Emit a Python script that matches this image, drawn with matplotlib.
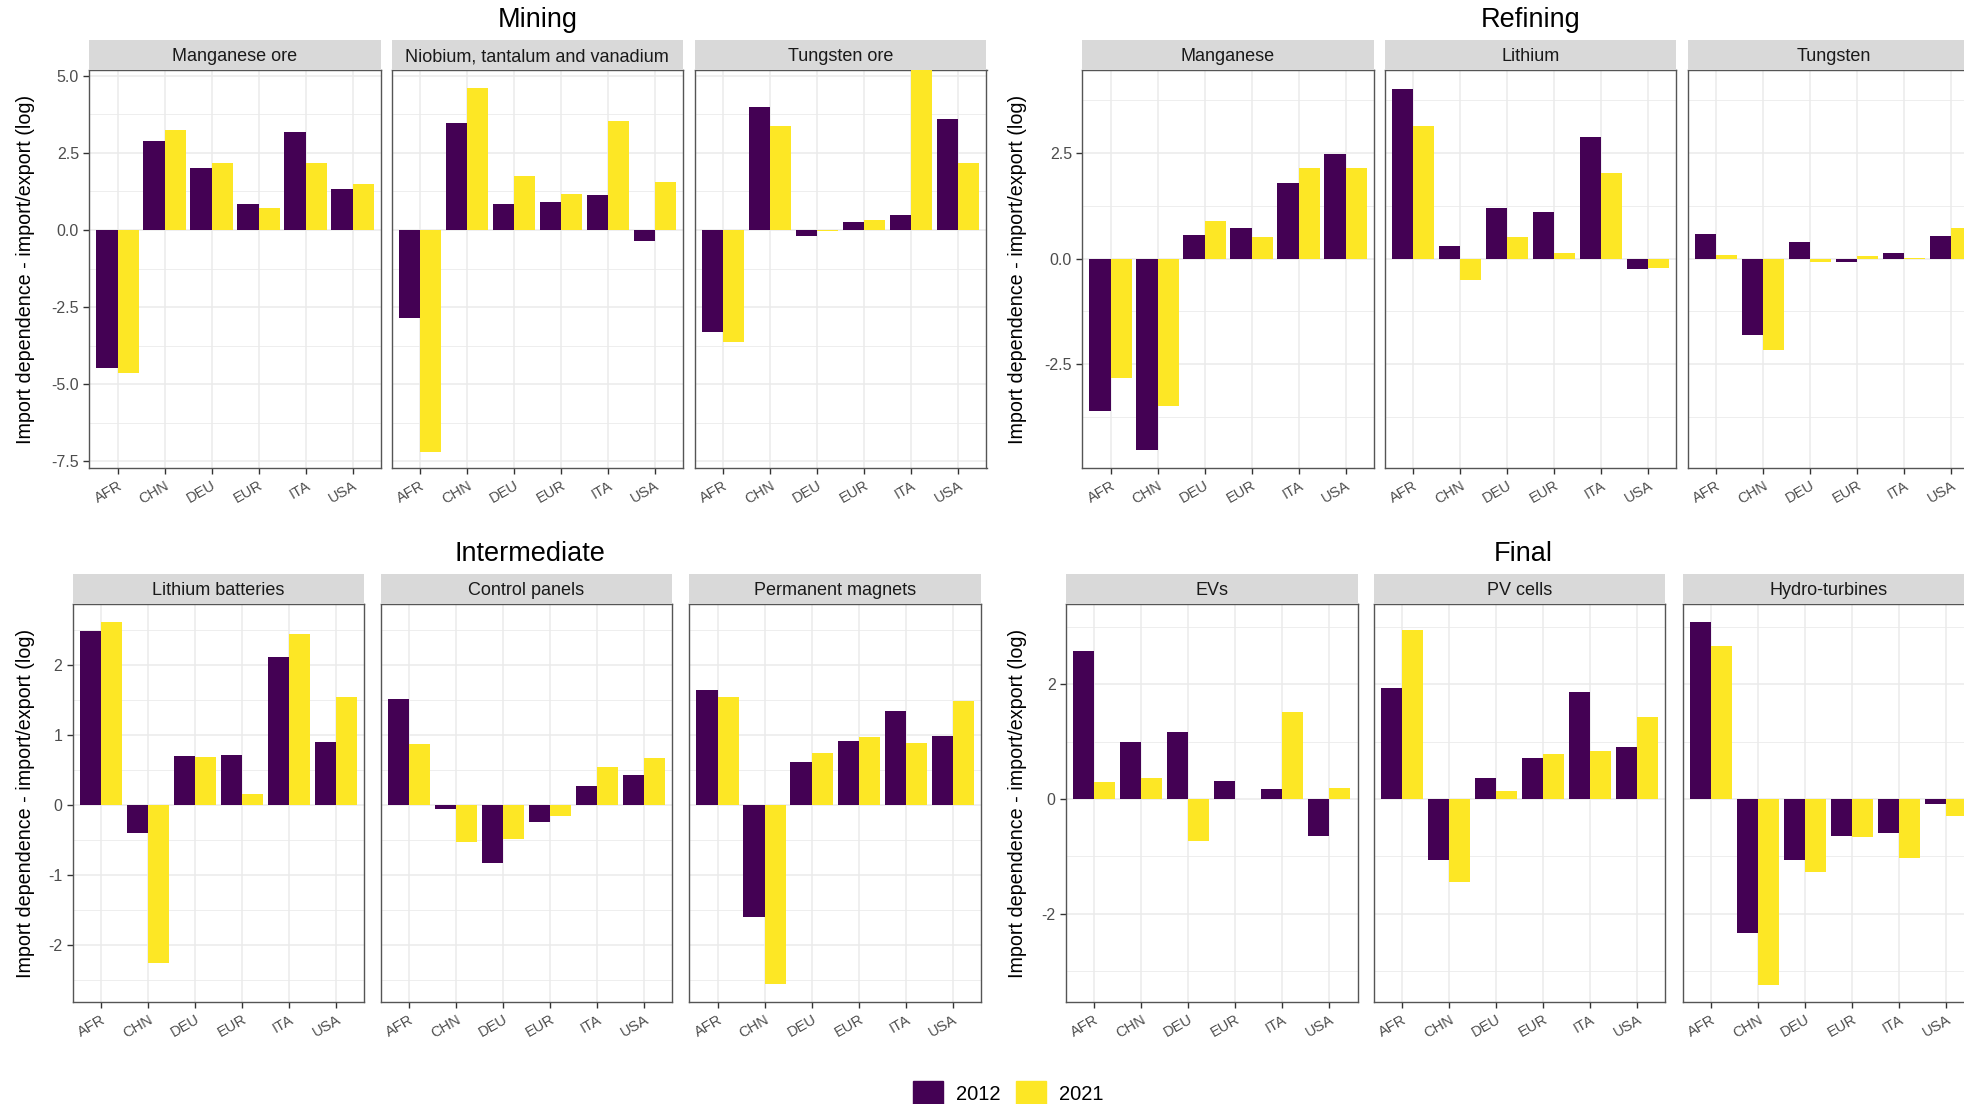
import matplotlib.pyplot as plt
import numpy as np
from matplotlib.ticker import FormatStrFormatter
from matplotlib.patches import Patch

plt.rcParams['font.family'] = ['Liberation Sans', 'DejaVu Sans']
plt.rcParams['axes.unicode_minus'] = False

# Countries on the x axis of every panel
countries = ['AFR', 'CHN', 'DEU', 'EUR', 'ITA', 'USA']
years = ['2012', '2021']

# Mining
mn_ore_2012 = [-4.49, 2.90, 2.02, 0.83, 3.17, 1.34]
mn_ore_2021 = [-4.65, 3.23, 2.16, 0.70, 2.16, 1.50]
nb_ta_v_2012 = [-2.87, 3.46, 0.85, 0.92, 1.14, -0.36]
nb_ta_v_2021 = [-7.19, 4.62, 1.74, 1.18, 3.52, 1.55]
w_ore_2012 = [-3.30, 3.99, -0.21, 0.26, 0.49, 3.59]
w_ore_2021 = [-3.63, 3.37, -0.02, 0.31, 5.40, 2.16]

# Refining
mn_2012 = [-3.62, -4.54, 0.55, 0.72, 1.79, 2.48]
mn_2021 = [-2.82, -3.49, 0.90, 0.52, 2.14, 2.15]
li_2012 = [4.03, 0.30, 1.19, 1.11, 2.89, -0.24]
li_2021 = [3.14, -0.50, 0.52, 0.13, 2.03, -0.23]
w_2012 = [0.59, -1.82, 0.39, -0.07, 0.13, 0.53]
w_2021 = [0.09, -2.17, -0.09, 0.06, 0.01, 0.72]

# Intermediate
li_batt_2012 = [2.49, -0.40, 0.70, 0.72, 2.11, 0.90]
li_batt_2021 = [2.62, -2.25, 0.68, 0.16, 2.44, 1.54]
ctrl_2012 = [1.51, -0.05, -0.83, -0.24, 0.27, 0.43]
ctrl_2021 = [0.87, -0.52, -0.48, -0.15, 0.54, 0.67]
magnets_2012 = [1.64, -1.60, 0.62, 0.92, 1.34, 0.99]
magnets_2021 = [1.54, -2.56, 0.74, 0.97, 0.88, 1.48]

# Final
evs_2012 = [2.58, 0.99, 1.16, 0.32, 0.18, -0.64]
evs_2021 = [0.29, 0.37, -0.73, 0.00, 1.52, 0.20]
pv_2012 = [1.93, -1.07, 0.37, 0.72, 1.86, 0.90]
pv_2021 = [2.94, -1.45, 0.14, 0.78, 0.83, 1.43]
hydro_2012 = [3.08, -2.34, -1.07, -0.64, -0.60, -0.08]
hydro_2021 = [2.67, -3.24, -1.27, -0.66, -1.03, -0.29]

PURPLE = '#440154'
YELLOW = '#FDE725'

W, H = 1964, 1104
fig = plt.figure(figsize=(W / 100, H / 100), dpi=100)


def px_axes(x0, y0, x1, y1):
    return fig.add_axes([x0 / W, 1 - y1 / H, (x1 - x0) / W, (y1 - y0) / H])


def draw_group(title, panels, lefts, top, ylim, major, minor, fmt, title_x, ylab_x):
    strip_top, panel_top, panel_bot = top, top + 30, top + 428
    pw = 291.5
    for i, (name, v12, v21) in enumerate(panels):
        x0 = lefts[i]
        ax = px_axes(x0, panel_top, x0 + pw, panel_bot)
        x = np.arange(1, len(countries) + 1)
        ax.bar(x - 0.225, v12, width=0.45, color=PURPLE, zorder=3)
        ax.bar(x + 0.225, v21, width=0.45, color=YELLOW, zorder=3)
        ax.set_xlim(0.4, 6.6)
        ax.set_ylim(ylim)
        ax.set_yticks(major)
        ax.set_yticks(minor, minor=True)
        ax.yaxis.set_major_formatter(FormatStrFormatter(fmt))
        ax.set_xticks(x)
        ax.set_xticklabels(countries, rotation=30, ha='right', va='top',
                           rotation_mode='anchor')
        ax.grid(which='major', color='#EBEBEB', lw=1.1)
        ax.grid(which='minor', axis='y', color='#EBEBEB', lw=0.6)
        ax.set_axisbelow(True)
        ax.tick_params(which='minor', length=0)
        ax.tick_params(length=4.5, width=1, color='#333333',
                       labelcolor='#4D4D4D', pad=3)
        ax.tick_params(axis='x', labelsize=10.5)
        ax.tick_params(axis='y', labelsize=11.5)
        for s in ax.spines.values():
            s.set_color('#555555')
            s.set_linewidth(1)
        if i > 0:
            ax.tick_params(axis='y', left=False, labelleft=False)

        # facet strip
        st = px_axes(x0, strip_top, x0 + pw, panel_top)
        st.set_facecolor('#D9D9D9')
        st.set_xticks([])
        st.set_yticks([])
        for s in st.spines.values():
            s.set_visible(False)
        st.text(0.5, 0.45, name, ha='center', va='center', fontsize=13,
                color='#1A1A1A', transform=st.transAxes)

    fig.text(title_x / W, 1 - (top - 20) / H, title, ha='center', va='center',
             fontsize=19.5, color='black')
    fig.text(ylab_x / W, 1 - (panel_top + panel_bot) / 2 / H,
             'Import dependence - import/export (log)', rotation=90,
             ha='center', va='center', fontsize=14.2, color='black')


draw_group('Mining',
           [('Manganese ore', mn_ore_2012, mn_ore_2021),
            ('Niobium, tantalum and vanadium', nb_ta_v_2012, nb_ta_v_2021),
            ('Tungsten ore', w_ore_2012, w_ore_2021)],
           [89.3, 391.6, 695.0], 40, (-7.72, 5.19),
           [-7.5, -5.0, -2.5, 0.0, 2.5, 5.0],
           [-6.25, -3.75, -1.25, 1.25, 3.75], '%.1f', 538, 25.5)

draw_group('Refining',
           [('Manganese', mn_2012, mn_2021),
            ('Lithium', li_2012, li_2021),
            ('Tungsten', w_2012, w_2021)],
           [1082.3, 1384.8, 1687.9], 40, (-4.96, 4.47),
           [-2.5, 0.0, 2.5],
           [-3.75, -1.25, 1.25, 3.75], '%.1f', 1531, 1017.7)

draw_group('Intermediate',
           [('Lithium batteries', li_batt_2012, li_batt_2021),
            ('Control panels', ctrl_2012, ctrl_2021),
            ('Permanent magnets', magnets_2012, magnets_2021)],
           [72.7, 380.7, 689.4], 574, (-2.81, 2.87),
           [-2, -1, 0, 1, 2],
           [-2.5, -1.5, -0.5, 0.5, 1.5, 2.5], '%d', 530, 25.5)

draw_group('Final',
           [('EVs', evs_2012, evs_2021),
            ('PV cells', pv_2012, pv_2021),
            ('Hydro-turbines', hydro_2012, hydro_2021)],
           [1066.0, 1374.0, 1682.9], 574, (-3.54, 3.40),
           [-2, 0, 2],
           [-3, -1, 1, 3], '%d', 1523, 1017.7)

handles = [Patch(color=PURPLE), Patch(color=YELLOW)]
fig.legend(handles, years, loc='center', bbox_to_anchor=(1008 / W, 1 - 1093 / H),
           ncol=2, frameon=False, fontsize=14.5, handlelength=1.5,
           handleheight=1.5, handletextpad=0.65, columnspacing=0.75,
           borderpad=0)

fig.savefig('out.png', dpi=100)
